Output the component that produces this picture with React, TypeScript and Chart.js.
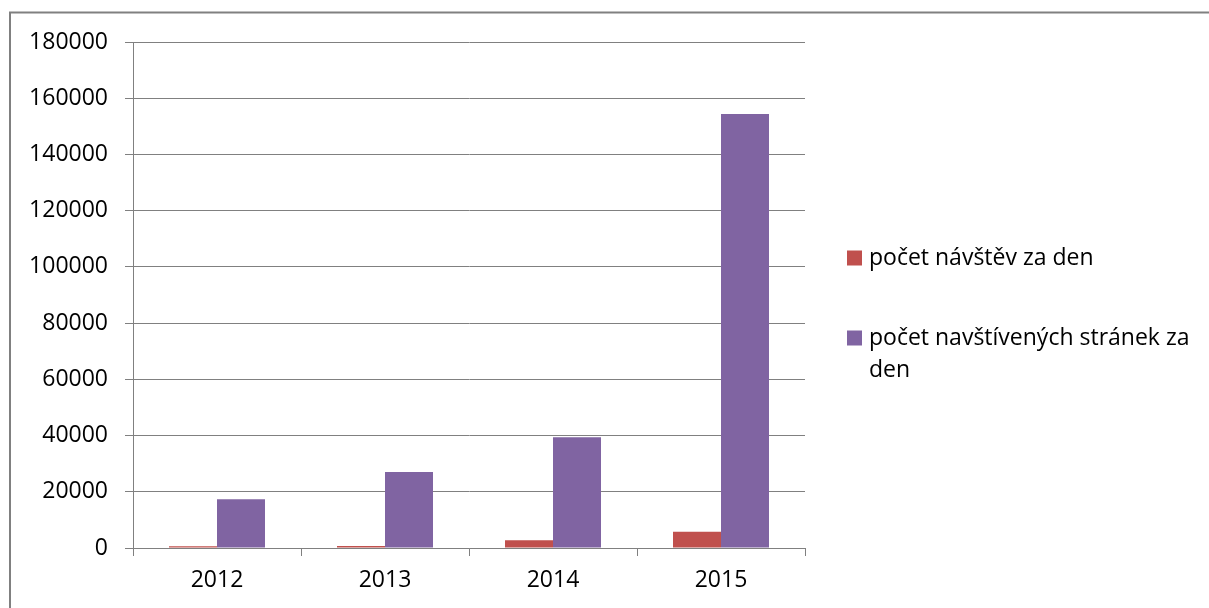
import React, { useEffect, useRef } from 'react';
import { Chart, registerables } from 'chart.js';

Chart.register(...registerables);

const years = ['2012', '2013', '2014', '2015'];
const visitsPerDay = [600, 700, 2800, 5800];
const pagesPerDay = [17300, 27000, 39400, 154400];
const seriesLabels = ['počet návštěv za den', 'počet navštívených stránek za den'];
const seriesColors = ['#C0504D', '#8064A2'];
const yMin = 0;
const yMax = 180000;
const yStep = 20000;

const FONT = '"Open Sans", "Noto Sans", sans-serif';
const GRID = '#808080';

const framePlugin = {
  id: 'frame',
  beforeDraw(chart: any) {
    const ctx = chart.ctx;
    ctx.save();
    ctx.strokeStyle = GRID;
    ctx.lineWidth = 2;
    ctx.strokeRect(10, 12.5, chart.width + 50, chart.height + 50);
    ctx.restore();
  },
};

const sideLegendPlugin = {
  id: 'sideLegend',
  afterDraw(chart: any) {
    const ctx = chart.ctx;
    const area = chart.chartArea;
    const boxX = area.right + 42;
    const textX = boxX + 22;
    const maxW = chart.width - textX - 6;
    const lineH = 32;
    const startY = [258, 338];
    ctx.save();
    ctx.font = `23px ${FONT}`;
    ctx.textBaseline = 'middle';
    ctx.textAlign = 'left';
    chart.data.datasets.forEach((ds: any, i: number) => {
      const yc = startY[i];
      ctx.fillStyle = ds.backgroundColor;
      ctx.fillRect(boxX, yc - 7.5, 15, 15);
      const words = String(ds.label).split(' ');
      const lines: string[] = [];
      let cur = '';
      words.forEach((w) => {
        const t = cur ? cur + ' ' + w : w;
        if (ctx.measureText(t).width > maxW && cur) {
          lines.push(cur);
          cur = w;
        } else {
          cur = t;
        }
      });
      if (cur) lines.push(cur);
      ctx.fillStyle = '#000';
      lines.forEach((l, j) => ctx.fillText(l, textX, yc + j * lineH));
    });
    ctx.restore();
  },
};

export default function App() {
  const ref = useRef<HTMLCanvasElement | null>(null);
  useEffect(() => {
    if (!ref.current) return;
    const chart = new Chart(ref.current, {
      type: 'bar',
      data: {
        labels: years,
        datasets: [
          { label: seriesLabels[0], data: visitsPerDay, backgroundColor: seriesColors[0], borderWidth: 0 },
          { label: seriesLabels[1], data: pagesPerDay, backgroundColor: seriesColors[1], borderWidth: 0 },
        ],
      },
      options: {
        responsive: false,
        animation: false,
        layout: { padding: { top: 42, right: 404, bottom: 0, left: 0 } },
        datasets: { bar: { categoryPercentage: 0.5714, barPercentage: 1 } },
        plugins: {
          legend: { display: false },
          tooltip: { enabled: false },
        },
        scales: {
          x: {
            grid: { display: true, drawOnChartArea: false, drawTicks: true, tickLength: 8, color: GRID, offset: true },
            border: { display: true, color: GRID, width: 1 },
            ticks: { color: '#000', font: { family: FONT, size: 23 }, padding: 11 },
            afterFit: (s: any) => { s.height = 60; },
          },
          y: {
            min: yMin,
            max: yMax,
            grid: { color: GRID, tickLength: 8, drawTicks: true },
            border: { display: true, color: GRID, width: 1 },
            ticks: {
              stepSize: yStep,
              color: '#000',
              font: { family: FONT, size: 23 },
              padding: 17,
              callback: (v: any) => String(v),
            },
            afterFit: (s: any) => { s.width = 133; },
          },
        },
      },
      plugins: [framePlugin, sideLegendPlugin],
    });
    return () => chart.destroy();
  }, []);
  return (
    <div style={{ position: 'absolute', left: 0, top: 0, width: 1209, height: 608 }}>
      <canvas ref={ref} width={1209} height={608} style={{ display: 'block' }} />
    </div>
  );
}
